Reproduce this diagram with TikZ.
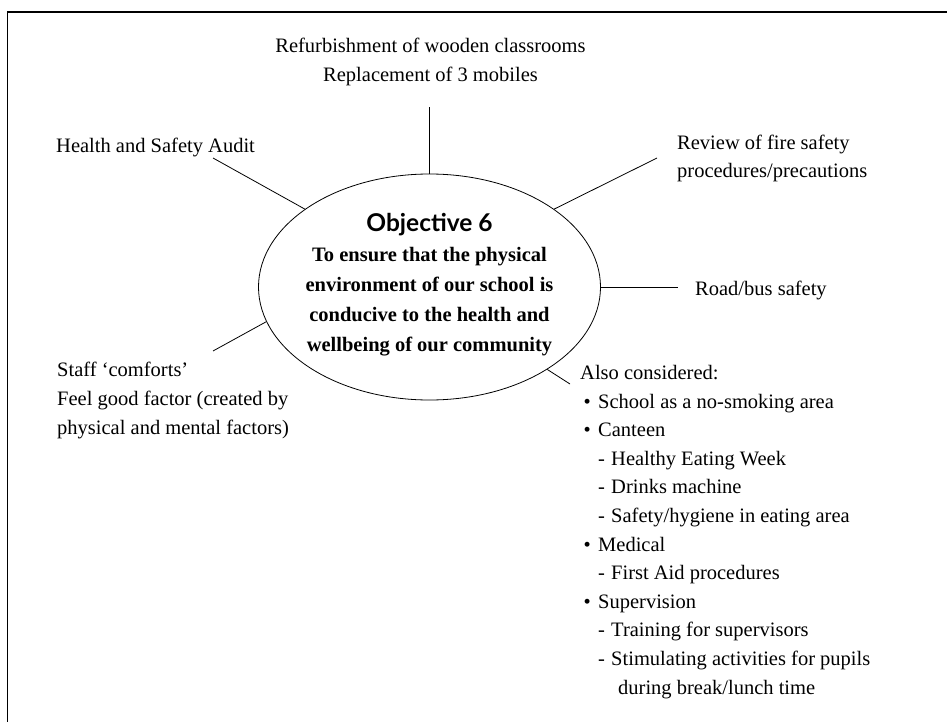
\documentclass[tikz,border=0pt]{standalone}
\usepackage{fontspec}
\setmainfont{Liberation Serif}
\newfontfamily\objfont{Lato}
\usetikzlibrary{shapes.geometric}
\tikzset{
  lbl/.style={inner sep=0pt, anchor=base west, align=left, font=\fontsize{20.5}{28.6}\selectfont},
  conn/.style={line width=0.8pt, black},
  frame/.style={line width=1.4pt, black},
}
\begin{document}
\begin{tikzpicture}[x=1pt,y=-1pt]
\useasboundingbox (0,0) rectangle (947,722);
\draw[frame] (7.5,722) -- (7.5,12) -- (947,12);
% central ellipse
\node[draw, ellipse, line width=0.8pt, minimum width=342pt, minimum height=226pt, inner sep=0pt] (obj) at (429.5,287) {};
\node[inner sep=0pt, anchor=base, font=\objfont\bfseries\fontsize{24.5}{28}\selectfont] (objtitle) at (429.5,231) {Objective 6};
% (multi-line nodes: base anchor = baseline of the last line)
\node[inner sep=0pt, anchor=base, align=center, font=\bfseries\fontsize{20.5}{30}\selectfont] (objbody) at (429.5,351)
  {To ensure that the physical\\environment of our school is\\conducive to the health and\\wellbeing of our community};
% labels
\node[lbl, anchor=base, align=center, font=\fontsize{20.5}{29}\selectfont] (refurb) at (430.5,82) {Refurbishment of wooden classrooms\\Replacement of 3 mobiles};
\node[lbl] (health) at (56,153) {Health and Safety Audit};
\node[lbl, font=\fontsize{20.5}{28}\selectfont] (fire) at (677,178) {Review of fire safety\\procedures/precautions};
\node[lbl] (road) at (695,295) {Road/bus safety};
\node[lbl, font=\fontsize{20.5}{29}\selectfont] (staff) at (57,434) {Staff `comforts'\\Feel good factor (created by\\physical and mental factors)};
\node[lbl] (also) at (580,694) {Also considered:\\
\makebox[18pt][l]{\,\textbullet}School as a no-smoking area\\
\makebox[18pt][l]{\,\textbullet}Canteen\\
\hspace*{18pt}\makebox[13pt][l]{-}Healthy Eating Week\\
\hspace*{18pt}\makebox[13pt][l]{-}Drinks machine\\
\hspace*{18pt}\makebox[13pt][l]{-}Safety/hygiene in eating area\\
\makebox[18pt][l]{\,\textbullet}Medical\\
\hspace*{18pt}\makebox[13pt][l]{-}First Aid procedures\\
\makebox[18pt][l]{\,\textbullet}Supervision\\
\hspace*{18pt}\makebox[13pt][l]{-}Training for supervisors\\
\hspace*{18pt}\makebox[13pt][l]{-}Stimulating activities for pupils\\
\hspace*{38pt}during break/lunch time};
% connector free ends
\coordinate (cTop) at (429.5,107);
\coordinate (cHealth) at (213,158);
\coordinate (cFire) at (657,158);
\coordinate (cRoad) at (678,287);
\coordinate (cStaff) at (213,351);
\coordinate (cAlso) at (570,384);
\draw[conn] (obj.north) -- (cTop);
\draw[conn] (obj.148) -- (cHealth);
\draw[conn] (obj.32) -- (cFire);
\draw[conn] (obj.east) -- (cRoad);
\draw[conn] (obj.192) -- (cStaff);
\draw[conn] (obj.325) -- (cAlso);
\end{tikzpicture}
\end{document}
